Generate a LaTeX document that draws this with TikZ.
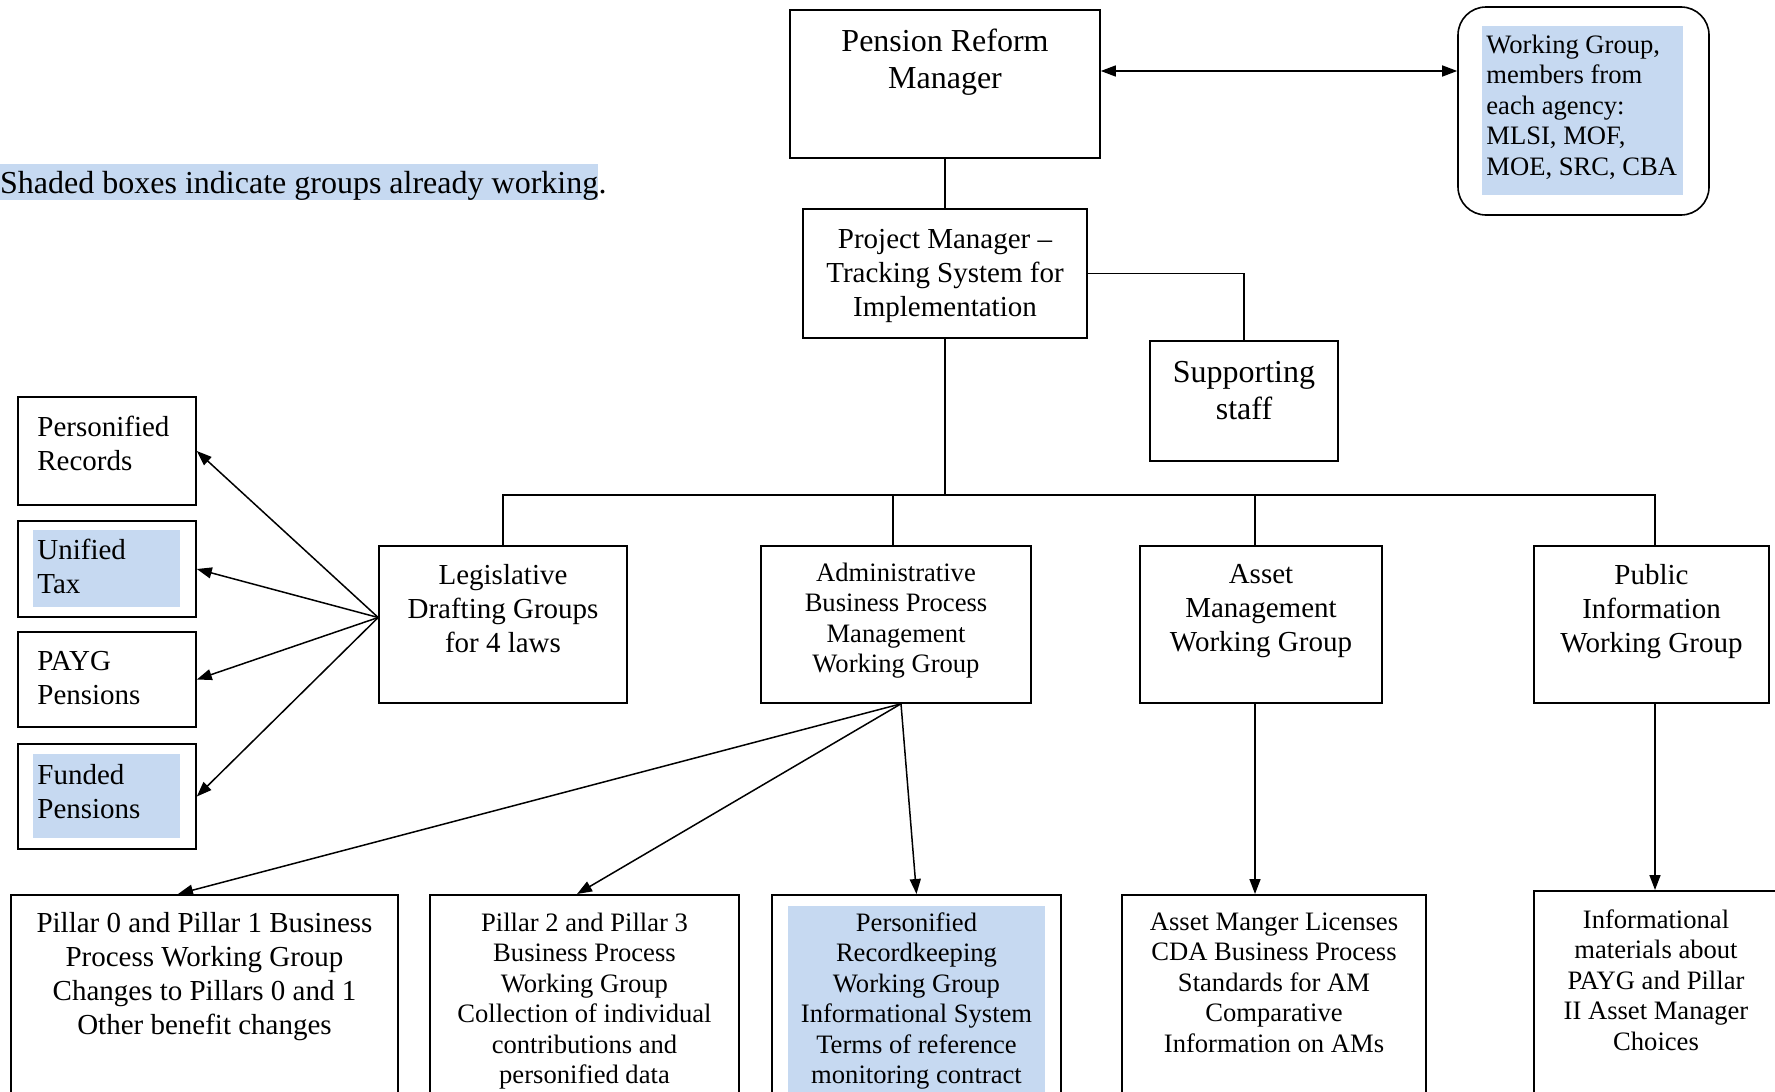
\documentclass[tikz,border=0pt]{standalone}
\usepackage{fontspec}
\setmainfont{Liberation Serif}
\usetikzlibrary{arrows.meta,positioning}
\definecolor{wgblue}{RGB}{198,217,241}

\tikzset{
  box/.style={draw, line width=1.6pt, inner sep=0pt},
  done/.style={fill=wgblue, inner sep=0pt},
  fbig/.style={font=\fontsize{32}{37}\selectfont},
  fmid/.style={font=\fontsize{29}{34}\selectfont},
  fsmall/.style={font=\fontsize{26.6}{30.5}\selectfont},
  lbl/.style={inner sep=0pt, align=center},
  lbll/.style={inner sep=0pt, align=left},
  conn/.style={line width=1.5pt},
  arr/.style={conn, -{Triangle[length=15pt,width=11pt]}},
}

\begin{document}
\begin{tikzpicture}[x=1pt,y=-1pt]
  \useasboundingbox (0,0) rectangle (1775,1092);
  \clip (0,0) rectangle (1775,1092);

  % top of the tree
  \node[box, minimum width=310, minimum height=148] (prm) at (945,84) {};
  \node[lbl, fbig, below=19.5pt of prm.north] (prm-t) {Pension Reform\\Manager};

  \node[box, rounded corners=28pt, minimum width=251, minimum height=208] (wg) at (1583.5,111) {};
  \node[done, minimum width=201, minimum height=169, anchor=north west] (wg-s) at ([shift={(25,20)}]wg.north west) {};
  \node[lbll, fsmall, anchor=north west] (wg-t) at ([shift={(4,8.5)}]wg-s.north west) {Working Group,\\members from\\each agency:\\MLSI, MOF,\\MOE, SRC, CBA};

  \node[done, fbig, text height=29pt, text depth=7pt, anchor=base west] (note) at (0,193) {Shaded boxes indicate groups already working};
  \node[inner sep=0pt, fbig, anchor=base west] (dot) at (note.base east) {.};

  \node[box, minimum width=284, minimum height=129] (pm) at (945,273.5) {};
  \node[lbl, fmid] (pm-t) at ([yshift=-2pt]pm.center) {Project Manager –\\Tracking System for\\Implementation};

  \node[box, minimum width=188, minimum height=120] (sup) at (1244,401) {};
  \node[lbl, fbig, below=20.5pt of sup.north] (sup-t) {Supporting\\staff};

  \draw[conn] (prm.south) -- (pm.north);
  \draw[conn, {Triangle[length=15pt,width=11pt]}-{Triangle[length=15pt,width=11pt]}] ([yshift=13pt]prm.east) -- ([yshift=13pt]prm.east -| wg.west);
  \draw[conn] (pm.east) -| (sup.north);

  % working groups
  \node[box, minimum width=248, minimum height=157] (leg) at (503,624.5) {};
  \node[lbl, fmid, below=18.5pt of leg.north] (leg-t) {Legislative\\Drafting Groups\\for 4 laws};
  \node[box, minimum width=270, minimum height=157] (adm) at (896,624.5) {};
  \node[lbl, fsmall, below=17.5pt of adm.north] (adm-t) {Administrative\\Business Process\\Management\\Working Group};
  \node[box, minimum width=242, minimum height=157] (ast) at (1261,624.5) {};
  \node[lbl, fmid, below=18.5pt of ast.north] (ast-t) {Asset\\Management\\Working Group};
  \node[box, minimum width=235, minimum height=157] (pub) at (1651.5,624.5) {};
  \node[lbl, fmid, below=18.5pt of pub.north] (pub-t) {Public\\Information\\Working Group};

  \coordinate (bus) at (945,495);
  \draw[conn] (pm.south) -- (bus);
  \draw[conn] (leg.north) |- (bus) -| ([xshift=3.5pt]pub.north);
  \draw[conn] ([xshift=-3pt]adm.north) -- ([xshift=-3pt]adm.north |- bus);
  \draw[conn] ([xshift=-6pt]ast.north) -- ([xshift=-6pt]ast.north |- bus);

  % laws
  \node[box, minimum width=178, minimum height=108] (pr) at (107,451) {};
  \node[lbll, fmid, anchor=north west] (pr-t) at ([shift={(20,19.5)}]pr.north west) {Personified\\Records};
  \node[box, minimum width=178, minimum height=96] (uni) at (107,569) {};
  \node[done, minimum width=147, minimum height=77, anchor=north west] (uni-s) at ([shift={(16,10)}]uni.north west) {};
  \node[lbll, fmid, anchor=north west] (uni-t) at ([shift={(20,18.5)}]uni.north west) {Unified\\Tax};
  \node[box, minimum width=178, minimum height=95] (payg) at (107,679.5) {};
  \node[lbll, fmid, anchor=north west] (payg-t) at ([shift={(20,19.5)}]payg.north west) {PAYG\\Pensions};
  \node[box, minimum width=178, minimum height=105] (fund) at (107,796.5) {};
  \node[done, minimum width=147, minimum height=84, anchor=north west] (fund-s) at ([shift={(16,11)}]fund.north west) {};
  \node[lbll, fmid, anchor=north west] (fund-t) at ([shift={(20,20.5)}]fund.north west) {Funded\\Pensions};

  \coordinate (legsrc) at ([yshift=7pt]leg.west);
  \foreach \n in {pr,uni,payg,fund}
    \draw[arr] (legsrc) -- (\n.east);

  % tasks
  \node[box, minimum width=387, minimum height=260, anchor=north] (p01) at (204.5,894) {};
  \node[lbl, fmid, below=18.5pt of p01.north] (p01-t) {Pillar 0 and Pillar 1 Business\\Process Working Group\\Changes to Pillars 0 and 1\\Other benefit changes};
  \node[box, minimum width=309, minimum height=260, anchor=north] (p23) at (584.5,894) {};
  \node[lbl, fsmall, below=18.5pt of p23.north] (p23-t) {Pillar 2 and Pillar 3\\Business Process\\Working Group\\Collection of individual\\contributions and\\personified data};
  \node[box, minimum width=289, minimum height=260, anchor=north] (prk) at (916.5,894) {};
  \node[done, minimum width=257, minimum height=220, below=12pt of prk.north] (prk-s) {};
  \node[lbl, fsmall, below=18.5pt of prk.north] (prk-t) {Personified\\Recordkeeping\\Working Group\\Informational System\\Terms of reference\\monitoring contract};
  \node[box, minimum width=304, minimum height=260, anchor=north] (aml) at (1274,894) {};
  \node[lbl, fsmall, below=18.5pt of aml.north] (aml-t) {Asset Manger Licenses\\CDA Business Process\\Standards for AM\\Comparative\\Information on AMs};
  \node[box, minimum width=244, minimum height=260, anchor=north] (inf) at (1656,890) {};
  \node[lbl, fsmall, below=19.5pt of inf.north] (inf-t) {Informational\\materials about\\PAYG and Pillar\\II Asset Manager\\Choices};

  \coordinate (admsrc) at ([xshift=5pt]adm.south);
  \draw[arr] (admsrc) -- ([xshift=-26.5pt]p01.north);
  \draw[arr] (admsrc) -- ([xshift=-7.5pt]p23.north);
  \draw[arr] (admsrc) -- (prk.north);
  \draw[arr] ([xshift=-6pt]ast.south) -- ([xshift=-6pt]ast.south |- aml.north);
  \draw[arr] ([xshift=3.5pt]pub.south) -- ([xshift=3.5pt]pub.south |- inf.north);
\end{tikzpicture}
\end{document}
